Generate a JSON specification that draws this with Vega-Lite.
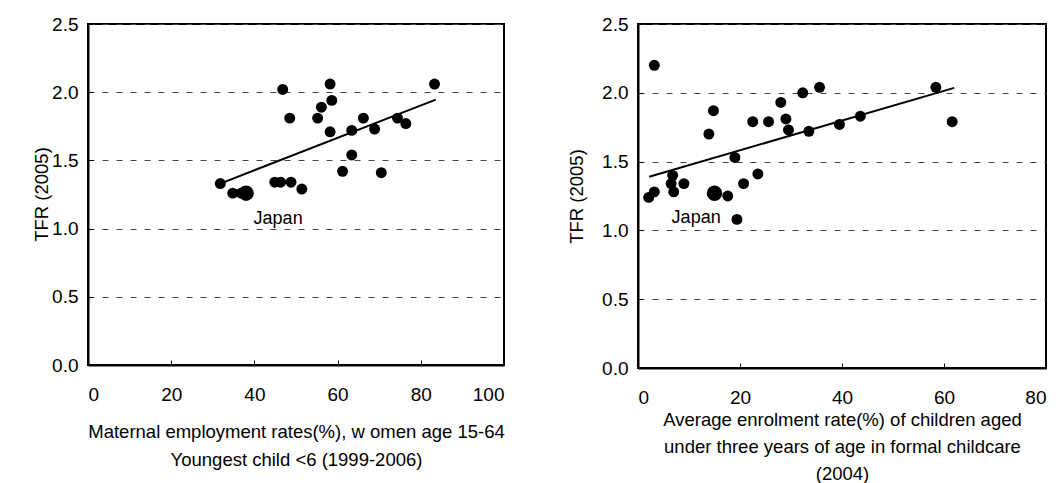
{
  "$schema": "https://vega.github.io/schema/vega-lite/v6.json",
  "padding": {"left": 31, "top": 14, "right": 5, "bottom": 5},
  "background": "white",
  "bounds": "flush",
  "spacing": 134,
  "datasets": {
    "emp": [
      {"x": 31.8, "y": 1.33, "country": "Other"},
      {"x": 34.8, "y": 1.26, "country": "Other"},
      {"x": 36.8, "y": 1.26, "country": "Other"},
      {"x": 44.9, "y": 1.34, "country": "Other"},
      {"x": 46.3, "y": 1.34, "country": "Other"},
      {"x": 48.8, "y": 1.34, "country": "Other"},
      {"x": 51.4, "y": 1.29, "country": "Other"},
      {"x": 46.8, "y": 2.02, "country": "Other"},
      {"x": 48.5, "y": 1.81, "country": "Other"},
      {"x": 58.2, "y": 2.06, "country": "Other"},
      {"x": 58.6, "y": 1.94, "country": "Other"},
      {"x": 56.1, "y": 1.89, "country": "Other"},
      {"x": 55.2, "y": 1.81, "country": "Other"},
      {"x": 58.2, "y": 1.71, "country": "Other"},
      {"x": 63.4, "y": 1.72, "country": "Other"},
      {"x": 66.2, "y": 1.81, "country": "Other"},
      {"x": 68.9, "y": 1.73, "country": "Other"},
      {"x": 74.4, "y": 1.81, "country": "Other"},
      {"x": 76.4, "y": 1.77, "country": "Other"},
      {"x": 83.3, "y": 2.06, "country": "Other"},
      {"x": 63.4, "y": 1.54, "country": "Other"},
      {"x": 61.2, "y": 1.42, "country": "Other"},
      {"x": 70.5, "y": 1.41, "country": "Other"},
      {"x": 38.0, "y": 1.26, "country": "Japan"}
    ],
    "empLine": [
      {"x": 31.8, "y": 1.33},
      {"x": 83.6, "y": 1.946}
    ],
    "empLabel": [
      {"x": 45.7, "y": 1.07, "label": "Japan"}
    ],
    "care": [
      {"x": 3.2, "y": 2.20, "country": "Other"},
      {"x": 2.1, "y": 1.24, "country": "Other"},
      {"x": 3.2, "y": 1.28, "country": "Other"},
      {"x": 6.5, "y": 1.34, "country": "Other"},
      {"x": 6.8, "y": 1.40, "country": "Other"},
      {"x": 7.0, "y": 1.28, "country": "Other"},
      {"x": 9.0, "y": 1.34, "country": "Other"},
      {"x": 17.6, "y": 1.25, "country": "Other"},
      {"x": 19.4, "y": 1.08, "country": "Other"},
      {"x": 20.7, "y": 1.34, "country": "Other"},
      {"x": 23.5, "y": 1.41, "country": "Other"},
      {"x": 19.0, "y": 1.53, "country": "Other"},
      {"x": 13.9, "y": 1.70, "country": "Other"},
      {"x": 14.8, "y": 1.87, "country": "Other"},
      {"x": 22.5, "y": 1.79, "country": "Other"},
      {"x": 25.6, "y": 1.79, "country": "Other"},
      {"x": 28.0, "y": 1.93, "country": "Other"},
      {"x": 29.0, "y": 1.81, "country": "Other"},
      {"x": 29.5, "y": 1.73, "country": "Other"},
      {"x": 32.3, "y": 2.00, "country": "Other"},
      {"x": 35.6, "y": 2.04, "country": "Other"},
      {"x": 33.5, "y": 1.72, "country": "Other"},
      {"x": 39.5, "y": 1.77, "country": "Other"},
      {"x": 43.6, "y": 1.83, "country": "Other"},
      {"x": 58.4, "y": 2.04, "country": "Other"},
      {"x": 61.6, "y": 1.79, "country": "Other"},
      {"x": 15.0, "y": 1.27, "country": "Japan"}
    ],
    "careLine": [
      {"x": 2.2, "y": 1.39},
      {"x": 62.0, "y": 2.036}
    ],
    "careLabel": [
      {"x": 11.4, "y": 1.09, "label": "Japan"}
    ]
  },
  "config": {
    "font": "Liberation Sans",
    "view": {"stroke": "black", "strokeWidth": 2},
    "axis": {
      "domain": true,
      "domainColor": "black",
      "domainWidth": 2,
      "labelFont": "Liberation Sans",
      "labelFontSize": 19,
      "labelColor": "black",
      "titleFont": "Liberation Sans",
      "titleFontSize": 18.5,
      "titleFontWeight": "normal",
      "titleColor": "black",
      "ticks": true,
      "tickColor": "black",
      "tickSize": -5,
      "tickWidth": 1
    },
    "axisY": {
      "grid": true,
      "gridColor": "#444",
      "gridDash": [6, 8],
      "gridWidth": 1,
      "labelPadding": 15,
      "titleAngle": -90,
      "titleAlign": "center",
      "titleBaseline": "middle"
    },
    "axisX": {
      "grid": false,
      "labelPadding": 34,
      "labelBaseline": "middle",
      "titleAlign": "center",
      "titleBaseline": "top",
      "titleAnchor": "middle"
    }
  },
  "hconcat": [
    {
      "width": 416,
      "height": 341,
      "view": {"stroke": "black", "strokeWidth": 2},
      "layer": [
        {
          "data": {"name": "emp"},
          "mark": {"type": "point", "filled": true, "color": "black", "opacity": 1},
          "encoding": {
            "x": {
              "field": "x", "type": "quantitative",
              "scale": {"domain": [0, 100], "nice": false},
              "axis": {
                "values": [0, 20, 40, 60, 80, 100],
                "title": ["Maternal employment rates(%), w omen age 15-64", "Youngest child <6 (1999-2006)"],
                "titleLineHeight": 28,
                "titleY": 57,
                "titleX": 208
              }
            },
            "y": {
              "field": "y", "type": "quantitative",
              "scale": {"domain": [0, 2.5], "nice": false},
              "axis": {
                "values": [0, 0.5, 1, 1.5, 2, 2.5],
                "format": ".1f",
                "title": "TFR (2005)",
                "titleX": -47,
                "titleY": 170
              }
            },
            "size": {
              "field": "country", "type": "nominal",
              "scale": {"domain": ["Other", "Japan"], "range": [120, 240]},
              "legend": null
            }
          }
        },
        {
          "data": {"name": "empLine"},
          "mark": {"type": "line", "color": "black", "strokeWidth": 2},
          "encoding": {
            "x": {"field": "x", "type": "quantitative"},
            "y": {"field": "y", "type": "quantitative"}
          }
        },
        {
          "data": {"name": "empLabel"},
          "mark": {"type": "text", "fontSize": 18, "color": "black", "font": "Liberation Sans"},
          "encoding": {
            "x": {"field": "x", "type": "quantitative"},
            "y": {"field": "y", "type": "quantitative"},
            "text": {"field": "label"}
          }
        }
      ]
    },
    {
      "width": 408,
      "height": 344,
      "view": {"stroke": "black", "strokeWidth": 2},
      "layer": [
        {
          "data": {"name": "care"},
          "mark": {"type": "point", "filled": true, "color": "black", "opacity": 1},
          "encoding": {
            "x": {
              "field": "x", "type": "quantitative",
              "scale": {"domain": [0, 80], "nice": false},
              "axis": {
                "values": [0, 20, 40, 60, 80],
                "title": ["Average enrolment rate(%) of children aged", "under three years of age in formal childcare", "(2004)"],
                "titleLineHeight": 27,
                "titleY": 42,
                "titleX": 204
              }
            },
            "y": {
              "field": "y", "type": "quantitative",
              "scale": {"domain": [0, 2.5], "nice": false},
              "axis": {
                "values": [0, 0.5, 1, 1.5, 2, 2.5],
                "format": ".1f",
                "title": "TFR (2005)",
                "titleX": -62,
                "titleY": 172
              }
            },
            "size": {
              "field": "country", "type": "nominal",
              "scale": {"domain": ["Other", "Japan"], "range": [120, 240]},
              "legend": null
            }
          }
        },
        {
          "data": {"name": "careLine"},
          "mark": {"type": "line", "color": "black", "strokeWidth": 2},
          "encoding": {
            "x": {"field": "x", "type": "quantitative"},
            "y": {"field": "y", "type": "quantitative"}
          }
        },
        {
          "data": {"name": "careLabel"},
          "mark": {"type": "text", "fontSize": 18, "color": "black", "font": "Liberation Sans"},
          "encoding": {
            "x": {"field": "x", "type": "quantitative"},
            "y": {"field": "y", "type": "quantitative"},
            "text": {"field": "label"}
          }
        }
      ]
    }
  ]
}
